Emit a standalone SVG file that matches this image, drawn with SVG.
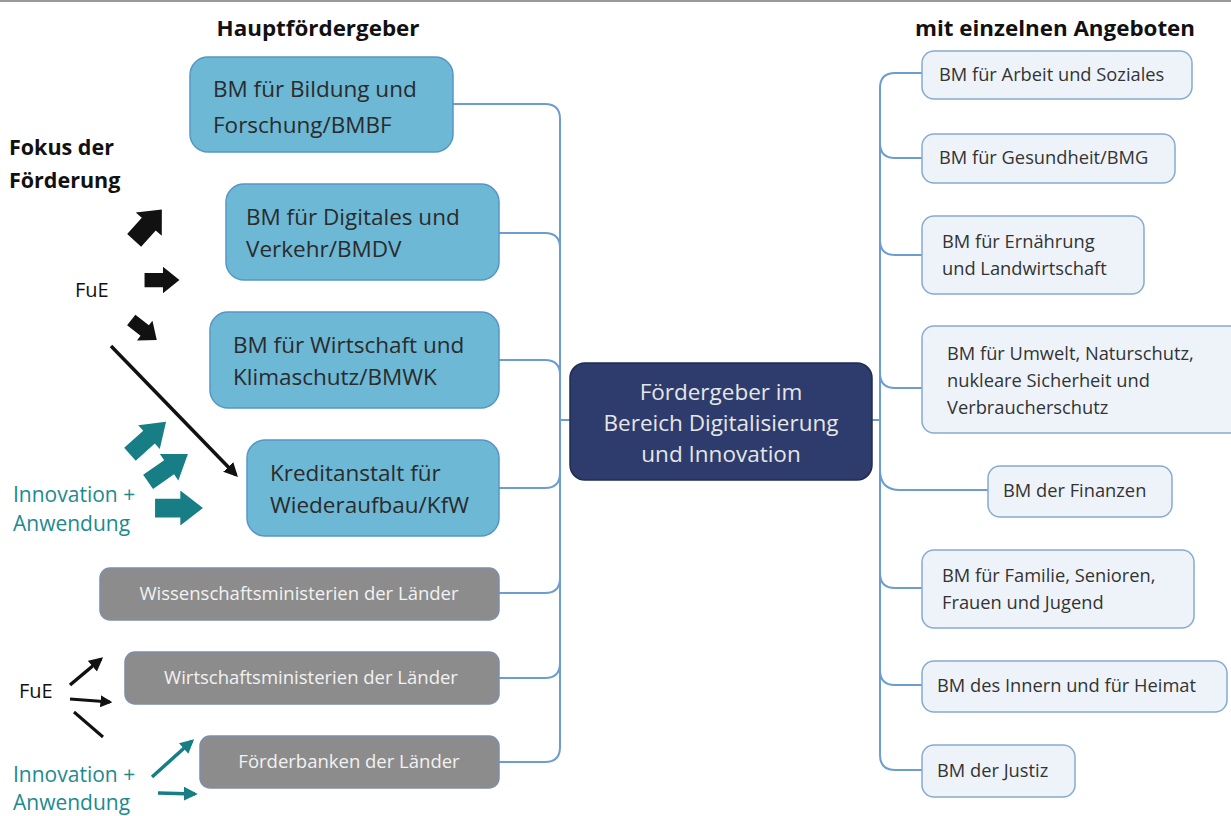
<svg xmlns="http://www.w3.org/2000/svg" width="1231" height="816" viewBox="0 0 1231 816">
<style>
.t{font-family:"Open Sans","Noto Sans",sans-serif}
.title{font-family:"Open Sans","Noto Sans",sans-serif;font-weight:bold;font-size:21px;fill:#111}
.blue rect{fill:#6cb8d5;stroke:#5696c6;stroke-width:1.5}
.blue text{font-family:"Open Sans","Noto Sans",sans-serif;font-size:22.5px;fill:#2b2b2b}
.gray rect{fill:#8c8c8c;stroke:#7d8fa8;stroke-width:1.5}
.gray text{font-family:"Open Sans","Noto Sans",sans-serif;font-size:18.5px;fill:#f2f2f2;text-anchor:middle}
.right rect{fill:#eef3fa;stroke:#86abd2;stroke-width:1.5}
.right text{font-family:"Open Sans","Noto Sans",sans-serif;font-size:18.3px;fill:#333}
.conn path{fill:none;stroke:#6c9dd0;stroke-width:2}
.teal{fill:#177e85}
.tealt{font-family:"Open Sans","Noto Sans",sans-serif;font-size:21px;fill:#1c8a90}
.blk{font-family:"Open Sans","Noto Sans",sans-serif;font-size:20px;fill:#111}
</style>
<defs>
<path id="barrow" d="M-18,-7.5 H1 V-14 L18,0 L1,14 V7.5 H-18 Z"/>
<marker id="ah" viewBox="0 0 10 10" refX="8" refY="5" markerWidth="4" markerHeight="4" orient="auto" markerUnits="strokeWidth"><path d="M0,0 L10,5 L0,10 Z" fill="#111"/></marker>
<marker id="aht" viewBox="0 0 10 10" refX="8" refY="5" markerWidth="4" markerHeight="4" orient="auto" markerUnits="strokeWidth"><path d="M0,0 L10,5 L0,10 Z" fill="#177e85"/></marker>
</defs>
<rect x="0" y="0" width="1231" height="816" fill="#fff"/>
<line x1="0" y1="1" x2="1231" y2="1" stroke="#9a9a9a" stroke-width="2"/>
<text class="title" x="318" y="36" text-anchor="middle" textLength="203" lengthAdjust="spacingAndGlyphs">Hauptfördergeber</text>
<text class="title" x="1055" y="36" text-anchor="middle" textLength="280" lengthAdjust="spacingAndGlyphs">mit einzelnen Angeboten</text>

<g id="connectors" class="conn">
<path d="M560,119 V747"/>
<path d="M453,104 H545 Q560,104 560,119"/>
<path d="M499,233 H545 Q560,233 560,248"/>
<path d="M499,360 H545 Q560,360 560,375"/>
<path d="M560,420 H570"/>
<path d="M499,488 H545 Q560,488 560,473"/>
<path d="M499,593 H545 Q560,593 560,578"/>
<path d="M499,678 H545 Q560,678 560,663"/>
<path d="M499,762 H545 Q560,762 560,747"/>
<path d="M872,420 H880"/>
<path d="M880,88 V755"/>
<path d="M922,73 H895 Q880,73 880,88"/>
<path d="M880,143 Q880,158 895,158 H922"/>
<path d="M880,240 Q880,255 895,255 H922"/>
<path d="M880,373 Q880,388 895,388 H922"/>
<path d="M880,470 Q880,490 900,490 H988"/>
<path d="M880,573 Q880,588 895,588 H922"/>
<path d="M880,670 Q880,685 895,685 H922"/>
<path d="M880,755 Q880,770 895,770 H922"/>
</g>

<g id="n-bmbf" class="blue"><rect x="190" y="57" width="263" height="95" rx="18"/><text x="213" y="97">BM für Bildung und</text><text x="213" y="133">Forschung/BMBF</text></g>
<g id="n-bmdv" class="blue"><rect x="226" y="184" width="273" height="96" rx="18"/><text x="246" y="225">BM für Digitales und</text><text x="246" y="257">Verkehr/BMDV</text></g>
<g id="n-bmwk" class="blue"><rect x="210" y="312" width="289" height="96" rx="18"/><text x="233" y="353">BM für Wirtschaft und</text><text x="233" y="385">Klimaschutz/BMWK</text></g>
<g id="n-kfw" class="blue"><rect x="247" y="440" width="252" height="96" rx="18"/><text x="270" y="481">Kreditanstalt für</text><text x="270" y="513">Wiederaufbau/KfW</text></g>

<g id="n-wiss" class="gray"><rect x="100" y="568" width="399" height="52" rx="10"/><text x="299" y="600">Wissenschaftsministerien der Länder</text></g>
<g id="n-wirt" class="gray"><rect x="125" y="652" width="374" height="52" rx="10"/><text x="311" y="684">Wirtschaftsministerien der Länder</text></g>
<g id="n-foerd" class="gray"><rect x="200" y="736" width="299" height="52" rx="10"/><text x="349" y="768">Förderbanken der Länder</text></g>

<g id="n-center"><rect x="570" y="363" width="302" height="117" rx="15" fill="#2e3c6d" stroke="#1f2b52" stroke-width="1.5"/>
<text class="t" x="721" y="400" text-anchor="middle" font-size="22.5" fill="#e6e6e6">Fördergeber im</text>
<text class="t" x="721" y="431" text-anchor="middle" font-size="22.5" fill="#e6e6e6">Bereich Digitalisierung</text>
<text class="t" x="721" y="462" text-anchor="middle" font-size="22.5" fill="#e6e6e6">und Innovation</text></g>

<g id="r-arbeit" class="right"><rect x="922" y="51" width="270" height="48" rx="12"/><text x="939" y="81">BM für Arbeit und Soziales</text></g>
<g id="r-gesund" class="right"><rect x="922" y="134" width="253" height="49" rx="12"/><text x="939" y="164">BM für Gesundheit/BMG</text></g>
<g id="r-ernaehr" class="right"><rect x="922" y="216" width="222" height="78" rx="12"/><text x="942" y="248">BM für Ernährung</text><text x="942" y="275">und Landwirtschaft</text></g>
<g id="r-umwelt" class="right"><rect x="922" y="326" width="320" height="107" rx="12"/><text x="947" y="360">BM für Umwelt, Naturschutz,</text><text x="947" y="387">nukleare Sicherheit und</text><text x="947" y="414">Verbraucherschutz</text></g>
<g id="r-finanz" class="right"><rect x="988" y="466" width="184" height="51" rx="12"/><text x="1003" y="497">BM der Finanzen</text></g>
<g id="r-familie" class="right"><rect x="922" y="550" width="272" height="78" rx="12"/><text x="942" y="582">BM für Familie, Senioren,</text><text x="942" y="609">Frauen und Jugend</text></g>
<g id="r-innern" class="right"><rect x="922" y="661" width="305" height="51" rx="12"/><text x="937" y="692">BM des Innern und für Heimat</text></g>
<g id="r-justiz" class="right"><rect x="922" y="745" width="153" height="52" rx="12"/><text x="937" y="777">BM der Justiz</text></g>

<g id="annotations">
<text class="t" x="9" y="155" font-size="21.5" font-weight="bold" fill="#111">Fokus der</text>
<text class="t" x="9" y="188" font-size="21.5" font-weight="bold" fill="#111">Förderung</text>
<text class="blk" x="75" y="297">FuE</text>
<use href="#barrow" fill="#111" transform="translate(148,225) rotate(-48) scale(1.15,1.25)"/>
<use href="#barrow" fill="#111" transform="translate(162,280) scale(0.97,0.95)"/>
<use href="#barrow" fill="#111" transform="translate(144,330) rotate(38) scale(0.9)"/>
<line x1="111" y1="346" x2="236" y2="475" stroke="#111" stroke-width="3.5" marker-end="url(#ah)"/>
<use href="#barrow" class="teal" transform="translate(148,438) rotate(-42) scale(1.35,1.15)"/>
<use href="#barrow" class="teal" transform="translate(168,468) rotate(-35) scale(1.35,1.15)"/>
<use href="#barrow" class="teal" transform="translate(179,508) scale(1.33,1.25)"/>
<text class="tealt" x="13" y="502">Innovation +</text>
<text class="tealt" x="13" y="531">Anwendung</text>

<text class="blk" x="19" y="698">FuE</text>
<line x1="70" y1="685" x2="101" y2="659" stroke="#111" stroke-width="3.5" marker-end="url(#ah)"/>
<line x1="70" y1="699" x2="110" y2="702" stroke="#111" stroke-width="3" marker-end="url(#ah)"/>
<line x1="74" y1="712" x2="103" y2="737" stroke="#111" stroke-width="3"/>
<text class="tealt" x="13" y="782">Innovation +</text>
<text class="tealt" x="13" y="810">Anwendung</text>
<line x1="152" y1="777" x2="192" y2="741" stroke="#177e85" stroke-width="3.5" marker-end="url(#aht)"/>
<line x1="158" y1="793" x2="195" y2="794" stroke="#177e85" stroke-width="3.5" marker-end="url(#aht)"/>
</g>
</svg>
